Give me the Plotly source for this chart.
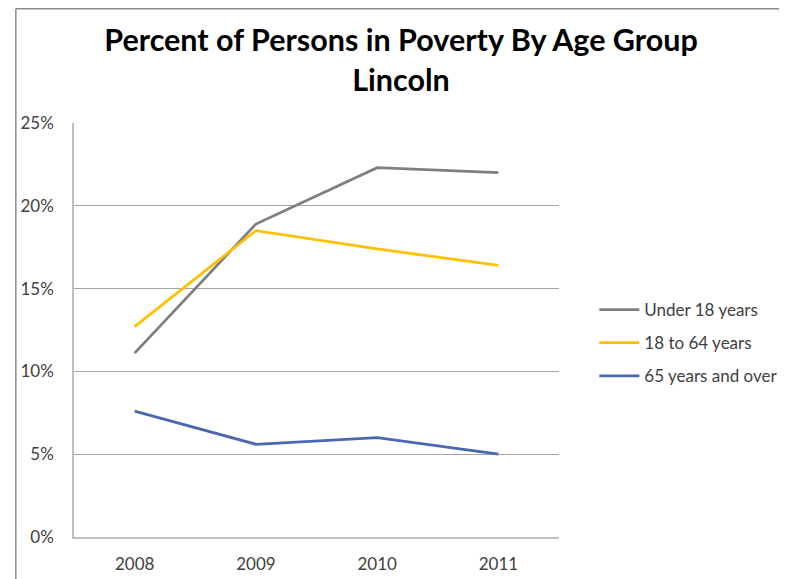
import plotly.graph_objects as go

years = ["2008", "2009", "2010", "2011"]
under_18 = [11.1, 18.9, 22.3, 22.0]
age_18_64 = [12.7, 18.5, 17.4, 16.4]
age_65_over = [7.6, 5.6, 6.0, 5.0]
series_names = ["Under 18 years", "18 to 64 years", "65 years and over"]
series_colors = ["#7f7f7f", "#ffc000", "#4a67b0"]
y_ticks = [0, 5, 10, 15, 20, 25]
y_tick_labels = ["0%", "5%", "10%", "15%", "20%", "25%"]

fig = go.Figure()
for name, vals, col in zip(series_names, [under_18, age_18_64, age_65_over], series_colors):
    fig.add_trace(go.Scatter(
        x=years, y=vals, mode="lines", name=name, legendgroup=name,
        line=dict(color=col, width=2.75),
    ))

# the page has an 8px body margin; positions below are given in page pixels
OFF = 8
W, H = 787, 579
L, T = 68 - OFF, 123 - OFF
R = W - (562 - OFF)
B = H - (537 - OFF)
pw, ph = W - L - R, H - T - B

def fx(page_x):  # page-pixel x -> paper
    return (page_x - OFF - L) / pw

def fy(page_y):  # page-pixel y -> paper
    return (H - B - (page_y - OFF)) / ph

fig.update_layout(
    width=W, height=H,
    margin=dict(l=L, r=R, t=T, b=B),
    paper_bgcolor="white", plot_bgcolor="white",
    font=dict(family="Lato, Carlito, Calibri, sans-serif", color="#404040", size=17),
    title=dict(
        text="<b>Percent of Persons in Poverty By Age Group<br>Lincoln</b>",
        x=(401 - OFF) / W, xanchor="center", y=1 - (51 - OFF) / H, yanchor="top",
        font=dict(family="Lato, Carlito, Calibri, sans-serif", size=30.5, color="#000000"),
    ),
    xaxis=dict(
        type="category", showgrid=False, showline=True, linecolor="#bfbfbf", linewidth=1.5,
        ticks="", tickfont=dict(size=17, color="#404040"), ticklabelstandoff=11,
        range=[-0.5, 3.5],
    ),
    yaxis=dict(
        range=[0, 25], tickvals=y_ticks, ticktext=y_tick_labels,
        showgrid=True, gridcolor="#a6a6a6", gridwidth=1,
        showline=True, linecolor="#bfbfbf", linewidth=1.5,
        zeroline=False, ticks="", tickfont=dict(size=17, color="#404040"),
        ticklabelstandoff=15,
    ),
    legend=dict(
        x=fx(598), xanchor="left",
        y=fy(292), yanchor="top",
        font=dict(size=17, color="#404040"),
        tracegroupgap=8, itemwidth=40, bgcolor="rgba(0,0,0,0)",
    ),
    showlegend=True,
)

# chart area border (top and left visible)
fig.add_shape(type="line", xref="paper", yref="paper",
              x0=fx(OFF + 0.75), x1=fx(W + 20),
              y0=fy(OFF + 0.75), y1=fy(OFF + 0.75),
              line=dict(color="#8c8c8c", width=1.5))
fig.add_shape(type="line", xref="paper", yref="paper",
              x0=fx(OFF + 0.75), x1=fx(OFF + 0.75),
              y0=fy(OFF + 0.75), y1=fy(H + 20),
              line=dict(color="#8c8c8c", width=1.5))

fig.write_html("out.html")
